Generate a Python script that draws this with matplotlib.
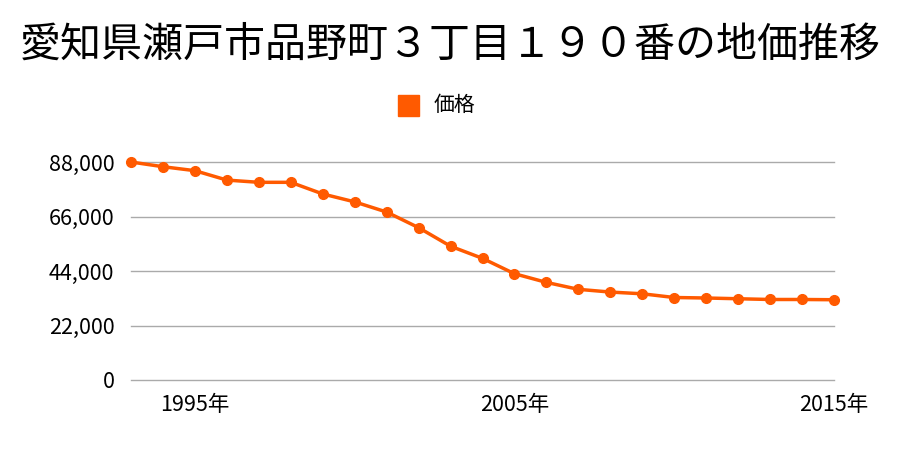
import matplotlib
matplotlib.use("Agg")
import matplotlib.pyplot as plt
from matplotlib.patches import Rectangle

plt.rcParams['font.family'] = ['Noto Sans CJK JP', 'DejaVu Sans']

years = list(range(1993, 2016))
prices = [88000, 86100, 84500, 80700, 79800, 79800, 75100, 71900, 67800,
          61500, 54000, 49100, 42900, 39400, 36600, 35500, 34800, 33300,
          33100, 32800, 32500, 32500, 32400]
yticks = [0, 22000, 44000, 66000, 88000]
xticks = [1995, 2005, 2015]
title = "愛知県瀬戸市品野町３丁目１９０番の地価推移"
color = "#ff5a00"

fig = plt.figure(figsize=(9, 4.5), dpi=100)
ax = fig.add_axes([131 / 900, 70 / 450, (834 - 131) / 900, 218 / 450])

ax.plot(years, prices, color=color, lw=2.5, marker='o', markersize=7,
        clip_on=False, zorder=3)

ax.set_xlim(1993, 2015)
ax.set_ylim(0, 88000)
ax.set_yticks(yticks)
ax.set_yticklabels([f"{v:,}" for v in yticks], fontsize=15.5)
ax.set_xticks(xticks)
ax.set_xticklabels([f"{y}年" for y in xticks], fontsize=15.5)
ax.grid(axis='y', color='#aaaaaa', lw=1)
for gl in ax.get_ygridlines():
    gl.set_clip_on(False)
ax.set_axisbelow(True)
for s in ax.spines.values():
    s.set_visible(False)
ax.tick_params(length=0)
ax.tick_params(axis='y', pad=12)
ax.tick_params(axis='x', pad=10)

fig.text(0.5, 0.9, title, ha='center', va='center', fontsize=29.5)
fig.patches.append(Rectangle((398 / 900, 1 - 116 / 450), 21 / 900, 21 / 450,
                             transform=fig.transFigure, color=color))
fig.text(434 / 900, 1 - 105 / 450, "価格", ha='left', va='center', fontsize=15)

fig.savefig("out.png", dpi=100)
